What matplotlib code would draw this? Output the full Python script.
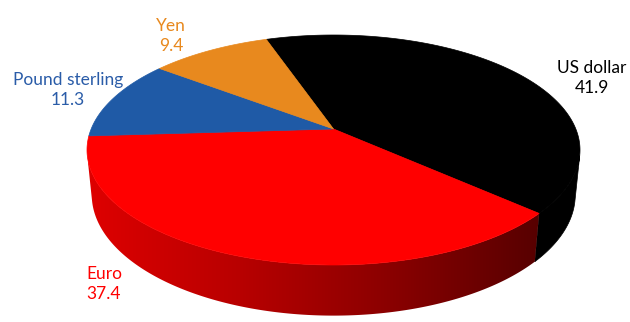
import numpy as np
import matplotlib.pyplot as plt
from matplotlib.patches import Polygon
from matplotlib.colors import LinearSegmentedColormap

# share of allocated reserves, per cent
currencies = ["US dollar", "Euro", "Pound sterling", "Yen"]
shares = [41.9, 37.4, 11.3, 9.4]
values_txt = ["41.9", "37.4", "11.3", "9.4"]
colors = ["#000000", "#ff0000", "#1f5aa6", "#e8891e"]
label_colors = ["#000000", "#ff0000", "#2a5ca8", "#e8891e"]
label_pos = [(592, 78), (104, 284), (68, 90), (171, 36)]

# 3d look: camera elevation, distance (in radii), pie thickness
elev = np.radians(26.9)
dist = 4.88
thick = 0.205
start = np.radians(341.0)  # first slice, clockwise from 12 o'clock

# box of the top ellipse in pixels
cx, top_y, width, height = 333.5, 35.0, 493.0, 230.0


def proj(theta, z):
    # theta clockwise from the far side
    X = np.sin(theta)
    Y = np.cos(theta)
    c, s = np.cos(elev), np.sin(elev)
    d = dist + Y * c - z * s
    return X / d, (Y * s + z * c) / d


ring = np.linspace(0, 2 * np.pi, 2000)
sx, sy = proj(ring, 0.0)
kx = width / (sx.max() - sx.min())
ky = height / (sy.max() - sy.min())
sy_max = sy.max()


def to_px(theta, z):
    a, b = proj(theta, z)
    return cx + a * kx, top_y + (sy_max - b) * ky


apex = (cx, top_y + sy_max * ky)

fig = plt.figure(figsize=(6.3, 3.22), dpi=100)
ax = fig.add_axes([0, 0, 1, 1])
ax.set_xlim(0, 630)
ax.set_ylim(322, 0)
ax.axis("off")

frac = np.array(shares) / sum(shares)
edges = start + np.concatenate([[0], np.cumsum(frac)]) * 2 * np.pi

# side wall: visible from limit angle on the right to the one on the left
lim = np.arccos(-1.0 / (dist * np.cos(elev)))
vis_a, vis_b = lim, 2 * np.pi - lim

red_side = LinearSegmentedColormap.from_list(
    "red_side", ["#de0000", "#b80000", "#8a0000", "#560000"])

for i in range(len(shares)):
    a0 = edges[i] % (2 * np.pi)
    span = edges[i + 1] - edges[i]
    for shift in (0.0, -2 * np.pi):
        lo = max(a0 + shift, vis_a)
        hi = min(a0 + shift + span, vis_b)
        if hi <= lo:
            continue
        t = np.linspace(lo, hi, 300)
        tx, ty = to_px(t, 0.0)
        bx, by = to_px(t, -thick)
        pts = list(zip(tx, ty)) + list(zip(bx[::-1], by[::-1]))
        if colors[i] == "#ff0000":
            poly = Polygon(pts, closed=True, facecolor="none", edgecolor="none")
            ax.add_patch(poly)
            grad = np.linspace(0, 1, 256).reshape(1, -1)
            im = ax.imshow(grad, cmap=red_side, aspect="auto",
                           extent=(88, 542, by.max() + 2, ty.min() - 2),
                           interpolation="bilinear", zorder=1)
            im.set_clip_path(poly)
        else:
            ax.add_patch(Polygon(pts, closed=True, facecolor=colors[i],
                                 edgecolor=colors[i], lw=0.5, zorder=1))

# top face
for i in range(len(shares)):
    t = np.linspace(edges[i], edges[i + 1], 300)
    px, py = to_px(t, 0.0)
    pts = [apex] + list(zip(px, py))
    ax.add_patch(Polygon(pts, closed=True, facecolor=colors[i],
                         edgecolor=colors[i], lw=0.5, zorder=2))

ax.set_xlim(0, 630)
ax.set_ylim(322, 0)

for name, val, (x, y), col in zip(currencies, values_txt, label_pos, label_colors):
    ax.text(x, y, name + "\n" + val, ha="center", va="center", color=col,
            fontsize=12.5, family="Lato", linespacing=1.25, zorder=3)

fig.savefig("out.png", dpi=100)
